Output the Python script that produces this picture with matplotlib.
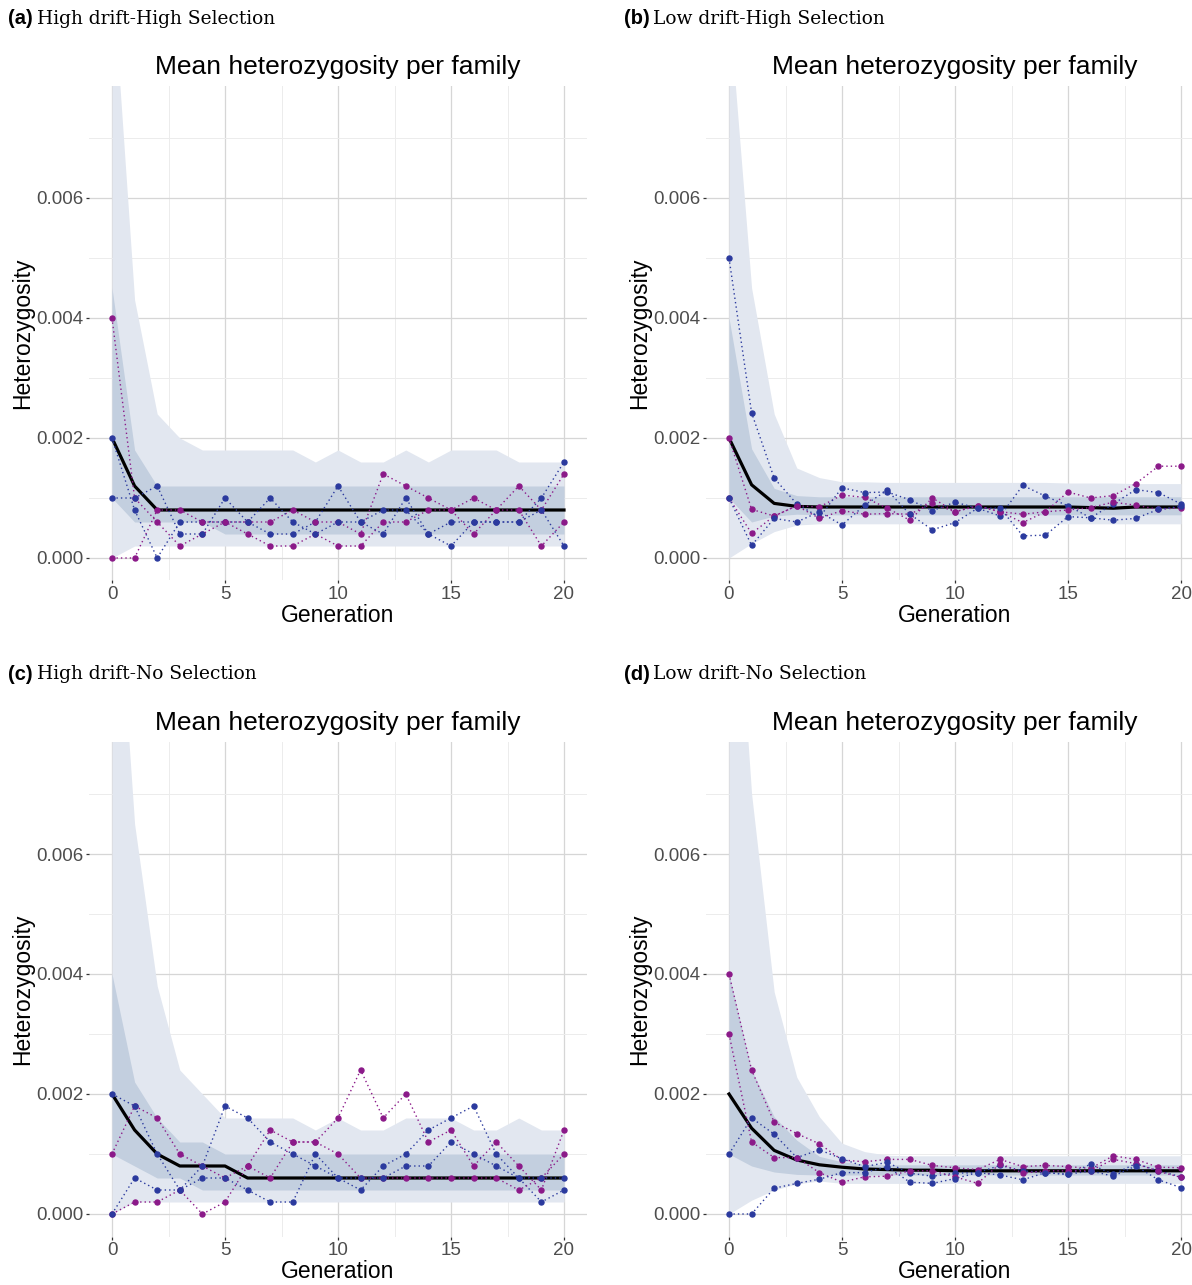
import matplotlib
matplotlib.use("Agg")
import matplotlib.pyplot as plt
from matplotlib.ticker import MultipleLocator

W, H = 1192, 1285
gens = list(range(21))

panel_tags = ["(a)", "(b)", "(c)", "(d)"]
panel_names = ["High drift-High Selection", "Low drift-High Selection",
               "High drift-No Selection", "Low drift-No Selection"]
title_text = "Mean heterozygosity per family"
xlabel_text = "Generation"
ylabel_text = "Heterozygosity"
yticks = [0.000, 0.002, 0.004, 0.006]
xticks = [0, 5, 10, 15, 20]

# ---------------- panel (a) ----------------
a_mean = [.002, .0012, .0008, .0008, .0008, .0008, .0008, .0008, .0008, .0008, .0008,
          .0008, .0008, .0008, .0008, .0008, .0008, .0008, .0008, .0008, .0008]
a_out_hi = [.0098, .0043, .0024, .002, .0018, .0018, .0018, .0018, .0018, .0016, .0018,
            .0016, .0016, .0018, .0016, .0018, .0018, .0018, .0016, .0016, .0016]
a_out_lo = [0, .0002, .0002, .0002, .0002, .0002, .0002, .0002, .0002, .0002, .0002,
            .0002, .0002, .0002, .0002, .0002, .0002, .0002, .0002, .0002, .0002]
a_in_hi = [.0045, .0018, .0012, .0012, .0012, .0012, .0012, .0012, .0012, .0012, .0012,
           .0012, .0012, .0012, .0012, .0012, .0012, .0012, .0012, .0012, .0012]
a_in_lo = [.001, .0006, .0006, .0006, .0006, .0004, .0004, .0004, .0004, .0004, .0004,
           .0004, .0004, .0004, .0004, .0004, .0004, .0004, .0004, .0004, .0004]
a_p1 = [.004, .001, .0006, .0002, .0004, .0006, .0004, .0002, .0002, .0004, .0002,
        .0002, .0006, .0006, .0008, .0008, .0004, .0008, .0012, .0008, .0014]
a_p2 = [0, 0, .0008, .0008, .0006, .0006, .0006, .0006, .0008, .0006, .0006,
        .0004, .0014, .0012, .001, .0008, .001, .0008, .0008, .0002, .0006]
a_b1 = [.002, .0008, 0, .0006, .0006, .0006, .0006, .0004, .0004, .0006, .0012,
        .0006, .0004, .001, .0004, .0002, .0006, .0006, .0006, .001, .0016]
a_b2 = [.001, .001, .0012, .0004, .0004, .001, .0006, .001, .0006, .0004, .0006,
        .0006, .0008, .0008, .0004, .0006, .0006, .0006, .0006, .0008, .0002]

# ---------------- panel (b) ----------------
b_mean = [.002, .00122, .00091, .00086, .00085, .00085, .00085, .00085, .00085, .00085, .00085,
          .00085, .00085, .00085, .00085, .00085, .00084, .00083, .00085, .00085, .00085]
b_out_hi = [.0092, .0045, .0024, .0015, .00134, .00127, .00127, .00126, .00126, .00126, .00126,
            .00126, .00126, .00126, .00126, .00125, .00125, .00125, .00124, .00124, .00124]
b_out_lo = [0, .00024, .00044, .00055, .00057, .00057, .00057, .00057, .00057, .00057, .00057,
            .00057, .00057, .00057, .00057, .00057, .00057, .00057, .00057, .00057, .00057]
b_in_hi = [.004, .00182, .00116, .00104, .00102, .00102, .00102, .00102, .00102, .00102, .00102,
           .00102, .00102, .00102, .00102, .00102, .00102, .00102, .00102, .00102, .00102]
b_in_lo = [.001, .0006, .0007, .00073, .00072, .00072, .00072, .00072, .00072, .00072, .00072,
           .00072, .00072, .00072, .00072, .00072, .00072, .00072, .00072, .00072, .00072]
b_p1 = [.002, .00081, .0007, .00087, .00085, .00105, .00101, .00083, .00063, .001, .00077,
        .00087, .00077, .00073, .00077, .0011, .001, .00104, .00124, .00153, .00153]
b_p2 = [.001, .00041, .0007, .00087, .00066, .00079, .00073, .00074, .00073, .00091, .00077,
        .00087, .00077, .00059, .00077, .0008, .00084, .00093, .00088, .00081, .00084]
b_b1 = [.005, .00242, .00133, .0009, .00068, .00117, .00109, .0011, .00097, .00079, .00093,
        .00083, .0007, .00121, .00103, .00087, .00067, .0009, .00114, .00109, .0009]
b_b2 = [.001, .00021, .00066, .0006, .00077, .00055, .00088, .00113, .00073, .00047, .00059,
        .00083, .00083, .00037, .00038, .00069, .00067, .00063, .00066, .00081, .00086]

# ---------------- panel (c) ----------------
c_mean = [.002, .0014, .001, .0008, .0008, .0008, .0006, .0006, .0006, .0006, .0006,
          .0006, .0006, .0006, .0006, .0006, .0006, .0006, .0006, .0006, .0006]
c_out_hi = [.012, .0065, .0038, .0024, .002, .0016, .0016, .0016, .0016, .0014, .0016,
            .0014, .0014, .0016, .0016, .0016, .0014, .0014, .0016, .0014, .0014]
c_out_lo = [0, .0002, .0002, .0002, .0002, .0002, .0002, .0002, .0002, .0002, .0002,
            .0002, .0002, .0002, .0002, .0002, .0002, .0002, .0002, .0002, .0002]
c_in_hi = [.004, .0022, .0016, .0012, .0012, .001, .001, .001, .001, .001, .001,
           .001, .001, .001, .001, .001, .001, .001, .001, .001, .001]
c_in_lo = [.001, .0008, .0006, .0006, .0004, .0004, .0004, .0004, .0004, .0004, .0004,
           .0004, .0004, .0004, .0004, .0004, .0004, .0004, .0004, .0004, .0004]
c_p1 = [.001, .0018, .0016, .001, .0008, .0006, .0008, .0014, .0012, .0012, .0016,
        .0024, .0016, .002, .0012, .0014, .0008, .0012, .0008, .0004, .0014]
c_p2 = [0, .0002, .0002, .0004, 0, .0002, .0008, .0006, .0012, .0012, .001,
        .0006, .0006, .0006, .0006, .0006, .0006, .0006, .0004, .0006, .001]
c_b1 = [.002, .0018, .001, .0004, .0008, .0018, .0016, .0012, .001, .0008, .0006,
        .0004, .0008, .001, .0014, .0016, .0018, .001, .0006, .0002, .0004]
c_b2 = [0, .0006, .0004, .0004, .0006, .0006, .0004, .0002, .0002, .001, .0006,
        .0006, .0006, .0008, .0008, .0012, .001, .0008, .0006, .0006, .0006]

# ---------------- panel (d) ----------------
d_mean = [.002, .00143, .00106, .0009, .00082, .00078, .00075, .00074, .00073, .00073, .00072,
          .00072, .00072, .00072, .00072, .00072, .00072, .00072, .00072, .00072, .00072]
d_out_hi = [.0125, .007, .0037, .00228, .00162, .00118, .00104, .00098, .00097, .00097, .00097,
            .00097, .00097, .00097, .00097, .00097, .00097, .00097, .00097, .00097, .00097]
d_out_lo = [0, .00023, .0004, .0005, .00055, .00051, .00051, .00051, .00051, .00051, .00051,
            .00051, .00051, .00051, .00051, .00051, .00051, .00051, .00051, .00051, .00051]
d_in_hi = [.004, .0024, .00162, .00123, .00096, .00087, .00083, .00082, .00082, .00082, .00082,
           .00082, .00082, .00082, .00082, .00082, .00082, .00082, .00082, .00082, .00082]
d_in_lo = [.001, .0008, .0007, .00066, .00065, .00065, .00065, .00065, .00065, .00065, .00065,
           .00065, .00065, .00065, .00065, .00065, .00065, .00065, .00065, .00065, .00065]
d_p1 = [.004, .0024, .00153, .00134, .00117, .0009, .00087, .00091, .00091, .00081, .00077,
        .00074, .00091, .00079, .00081, .00079, .00076, .00097, .00091, .00078, .00077]
d_p2 = [.003, .0012, .00094, .00094, .00069, .00053, .00062, .00063, .00072, .00072, .00062,
        .00051, .00084, .00068, .00072, .00072, .00072, .00091, .00084, .00071, .00061]
d_b1 = [.001, .0016, .00133, .00094, .00107, .00092, .00079, .00086, .00068, .00063, .00068,
        .00069, .00081, .00072, .00069, .00066, .00083, .00066, .00084, .00072, .00062]
d_b2 = [0, 0, .00043, .00051, .00058, .00069, .00069, .00079, .00053, .00051, .00059,
        .00069, .00065, .00057, .00069, .00066, .00072, .00063, .0008, .00057, .00044]

panels = [
    dict(mean=a_mean, ohi=a_out_hi, olo=a_out_lo, ihi=a_in_hi, ilo=a_in_lo,
         fam=[a_p1, a_b1, a_p2, a_b2]),
    dict(mean=b_mean, ohi=b_out_hi, olo=b_out_lo, ihi=b_in_hi, ilo=b_in_lo,
         fam=[b_p1, b_b1, b_p2, b_b2]),
    dict(mean=c_mean, ohi=c_out_hi, olo=c_out_lo, ihi=c_in_hi, ilo=c_in_lo,
         fam=[c_p1, c_b1, c_p2, c_b2]),
    dict(mean=d_mean, ohi=d_out_hi, olo=d_out_lo, ihi=d_in_hi, ilo=d_in_lo,
         fam=[d_p1, d_b1, d_p2, d_b2]),
]
fam_colors = ["#8B1A89", "#2B3A9E", "#8B1A89", "#2B3A9E"]

# layout in pixels (left, right, top, bottom)
boxes = [(89.4, 586.6, 85.5, 580.5), (706.4, 1203.6, 85.5, 580.5),
         (89.4, 586.6, 741.5, 1236.5), (706.4, 1203.6, 741.5, 1236.5)]
tag_pos = [(8, 19), (624, 19), (8, 674), (624, 674)]

fig = plt.figure(figsize=(W / 100, H / 100), dpi=100)
fig.patch.set_facecolor("white")

for i, p in enumerate(panels):
    l, r, t, b = boxes[i]
    ax = fig.add_axes([l / W, 1 - b / H, (r - l) / W, (b - t) / H])
    ax.set_xlim(-1, 21)
    ax.set_ylim(-0.000375, 0.007875)
    for s in ax.spines.values():
        s.set_visible(False)
    ax.set_xticks(xticks)
    ax.set_xticklabels([str(v) for v in xticks])
    ax.set_yticks(yticks)
    ax.set_yticklabels(["%.3f" % v for v in yticks])
    ax.xaxis.set_minor_locator(MultipleLocator(2.5))
    ax.yaxis.set_minor_locator(MultipleLocator(0.001))
    ax.grid(which="major", color="#D6D6D6", lw=0.9)
    ax.grid(which="minor", color="#ECECEC", lw=0.7)
    ax.set_axisbelow(True)
    ax.tick_params(which="major", length=2.5, width=0.9, color="#333333",
                   labelsize=13.5, labelcolor="#4D4D4D", pad=1.5)
    ax.tick_params(which="minor", length=0)

    ax.fill_between(gens, p["olo"], p["ohi"], color="#E2E7F0", lw=0, zorder=1)
    ax.fill_between(gens, p["ilo"], p["ihi"], color="#C3CFDF", lw=0, zorder=2)
    ax.plot(gens, p["mean"], color="black", lw=2.3, zorder=3, solid_joinstyle="round")
    for fam, col in zip(p["fam"], fam_colors):
        ax.plot(gens, fam, color=col, lw=1.0, ls=(0, (1, 2.2)), zorder=4)
        ax.plot(gens, fam, ls="none", marker="o", ms=3.6, color=col, mec=col, zorder=5)

    ax.set_title(title_text, fontsize=19, family="Liberation Sans", pad=8)
    ax.set_xlabel(xlabel_text, fontsize=16.5, family="Liberation Sans", labelpad=1)
    ax.set_ylabel(ylabel_text, fontsize=16.5, family="Liberation Sans", labelpad=2)
    for lab in ax.get_xticklabels() + ax.get_yticklabels():
        lab.set_family("Liberation Sans")

    tx, ty = tag_pos[i]
    fig.text(tx / W, 1 - ty / H, panel_tags[i], fontsize=14.5, fontweight="bold",
             family="Liberation Sans", va="center", ha="left")
    fig.text((tx + 29) / W, 1 - ty / H, panel_names[i], fontsize=13.4,
             family="DejaVu Serif", va="center", ha="left")

fig.savefig("out.png", dpi=100, facecolor="white")
